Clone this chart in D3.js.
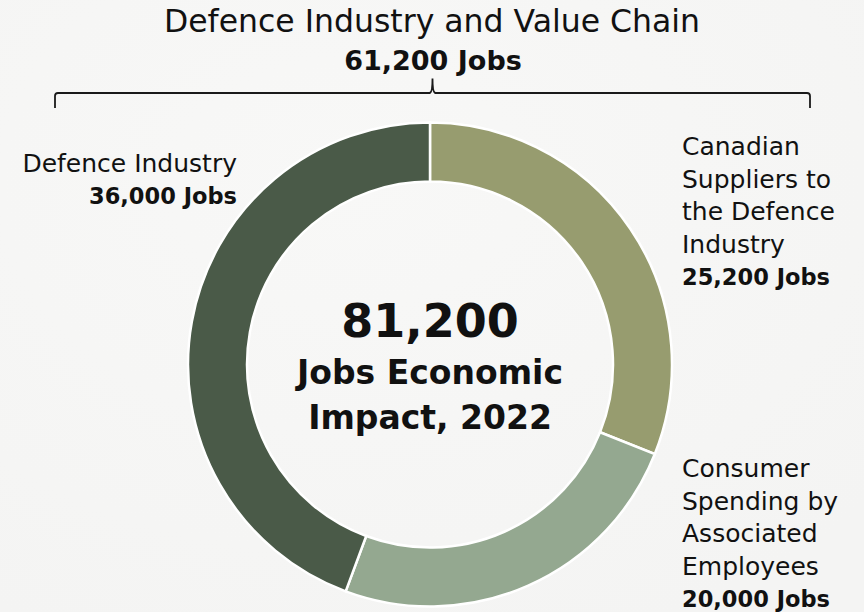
<!DOCTYPE html>
<html>
<head>
<meta charset="utf-8">
<script src="https://cdn.jsdelivr.net/npm/d3@7"></script>
<style>
  html, body { margin: 0; padding: 0; background: #f7f7f6; }
  svg { display: block; }
  text { font-family: "DejaVu Sans", "Noto Sans", sans-serif; fill: #111; }
</style>
</head>
<body>
<svg id="chart" width="864" height="612"></svg>
<script>
// ---- Data ----
const categories = ["Canadian Suppliers to the Defence Industry", "Consumer Spending by Associated Employees", "Defence Industry"];
const values = [25200, 20000, 36000];
const labelLines = [
  ["Canadian", "Suppliers to", "the Defence", "Industry"],
  ["Consumer", "Spending by", "Associated", "Employees"],
  ["Defence Industry"]
];
const colors = ["#979c6f", "#94a890", "#4a5a48"];
const valueChainIdx = [0, 2];
const centerSubtitle = ["Jobs Economic", "Impact, 2022"];
const topTitle = "Defence Industry and Value Chain";

const W = 864, H = 612;
const svg = d3.select("#chart");
const fmt = d3.format(",");

// background
const defs = svg.append("defs");
const bg = defs.append("radialGradient").attr("id", "bg").attr("cx", "40%").attr("cy", "30%").attr("r", "80%");
bg.append("stop").attr("offset", "0%").attr("stop-color", "#f8f8f7");
bg.append("stop").attr("offset", "100%").attr("stop-color", "#f4f4f3");
svg.append("rect").attr("width", W).attr("height", H).attr("fill", "url(#bg)");

// ---- Donut ----
const cx = 430, cy = 364.5, rOuter = 242, rInner = 183;
const data = categories.map((c, i) => ({ name: c, value: values[i], lines: labelLines[i], color: colors[i] }));
const pie = d3.pie().sort(null).value(d => d.value);
const arc = d3.arc().innerRadius(rInner).outerRadius(rOuter);
const g = svg.append("g").attr("transform", `translate(${cx},${cy})`);
g.selectAll("path").data(pie(data)).join("path")
  .attr("d", arc)
  .attr("fill", d => d.data.color)
  .attr("stroke", "#ffffff")
  .attr("stroke-width", 2.5);

// center text
const total = d3.sum(values);
g.append("text").attr("text-anchor", "middle").attr("y", -28)
  .style("font-size", "46px").style("font-weight", "bold").text(fmt(total));
centerSubtitle.forEach((t, i) => {
  g.append("text").attr("text-anchor", "middle").attr("y", 19 + i * 45)
    .style("font-size", "33px").style("font-weight", "bold").text(t);
});

// ---- Labels ----
const labelPos = [
  { x: 682, y: 155, anchor: "start" },
  { x: 682, y: 477, anchor: "start" },
  { x: 237, y: 172, anchor: "end" }
];
const lineH = 32.5;
data.forEach((d, i) => {
  const p = labelPos[i];
  const t = svg.append("text").attr("text-anchor", p.anchor).style("font-size", "25px");
  d.lines.forEach((ln, j) => {
    t.append("tspan").attr("x", p.x).attr("y", p.y + j * lineH).text(ln);
  });
  t.append("tspan").attr("x", p.x).attr("y", p.y + d.lines.length * (i === 2 ? 31.5 : lineH))
    .style("font-weight", "bold").style("font-size", "22.5px").text(fmt(d.value) + " Jobs");
});

// ---- Top title & bracket ----
const chainTotal = d3.sum(valueChainIdx, i => values[i]);
svg.append("text").attr("x", 432).attr("y", 32).attr("text-anchor", "middle")
  .style("font-size", "31.5px").text(topTitle);
svg.append("text").attr("x", 433).attr("y", 70).attr("text-anchor", "middle")
  .style("font-size", "27px").style("font-weight", "bold").text(fmt(chainTotal) + " Jobs");

const bx0 = 55, bx1 = 810, by = 93, bEnd = 108, bMid = 432.5, bTop = 78.5;
const br = d3.path();
br.moveTo(bx0, bEnd);
br.lineTo(bx0, by + 3);
br.quadraticCurveTo(bx0, by, bx0 + 3, by);
br.lineTo(bMid - 3, by);
br.quadraticCurveTo(bMid, by, bMid, bTop);
br.quadraticCurveTo(bMid, by, bMid + 3, by);
br.lineTo(bx1 - 3, by);
br.quadraticCurveTo(bx1, by, bx1, by + 3);
br.lineTo(bx1, bEnd);
svg.append("path").attr("d", br.toString()).attr("fill", "none")
  .attr("stroke", "#1a1a1a").attr("stroke-width", 1.8);
</script>
</body>
</html>
